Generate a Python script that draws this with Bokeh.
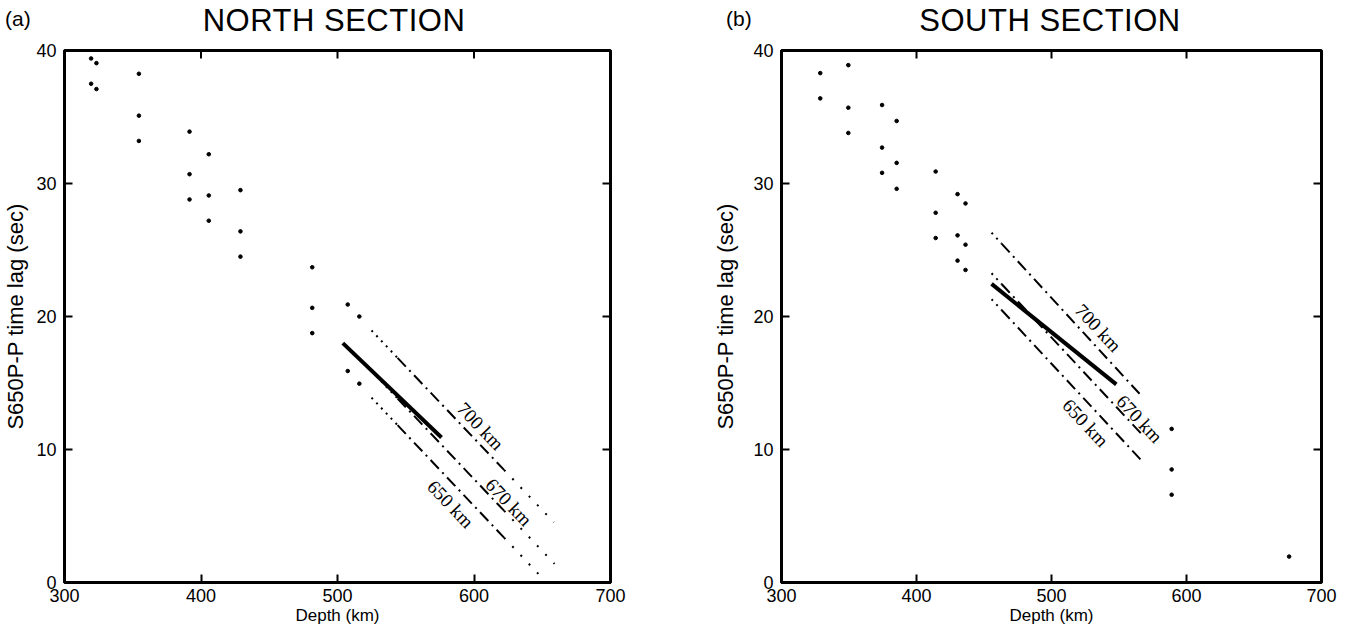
import numpy as np
from bokeh.plotting import figure
from bokeh.layouts import row, column
from bokeh.models import Label, Range1d, FixedTicker, Div
from bokeh.embed import file_html
from bokeh.resources import INLINE

# ---------------- data ----------------
x_ticks = [300, 400, 500, 600, 700]
y_ticks = [0, 10, 20, 30, 40]

panel_letters = ["(a)", "(b)"]
panel_titles = ["NORTH SECTION", "SOUTH SECTION"]

north_depth = [319.5, 323.4, 354.5, 319.5, 323.4, 354.5, 354.5, 391.6, 405.7, 391.6,
               391.6, 405.7, 405.7, 428.9, 428.9, 428.9, 481.5, 481.5, 481.5, 507.5,
               516.0, 507.5, 516.0]
north_lag = [39.4, 39.05, 38.25, 37.5, 37.1, 35.1, 33.2, 33.9, 32.2, 30.7,
             28.8, 29.1, 27.2, 29.5, 26.4, 24.5, 23.7, 20.65, 18.75, 20.9,
             20.0, 15.9, 14.95]

south_depth = [328.7, 328.7, 349.5, 349.5, 349.5, 374.5, 374.5, 374.5, 385.3, 385.3,
               385.3, 414.2, 414.2, 414.2, 430.4, 430.4, 430.4, 436.3, 436.3, 436.3,
               589.0, 589.0, 589.0, 676.0]
south_lag = [38.3, 36.4, 38.9, 35.7, 33.8, 35.9, 32.7, 30.8, 34.7, 31.55,
             29.6, 30.9, 27.8, 25.9, 29.2, 26.1, 24.2, 28.5, 25.4, 23.5,
             11.55, 8.5, 6.6, 1.95]

model_names = ["700 km", "670 km", "650 km"]

# model lines: start/end depth and lag
north_model_depth0 = [524.9, 524.9, 524.9]
north_model_lag0 = [18.95, 15.9, 13.9]
north_model_depth1 = [658.5, 659.0, 649.0]
north_model_lag1 = [4.53, 1.4, 0.45]

south_model_depth0 = [455.6, 455.6, 455.6]
south_model_lag0 = [26.3, 23.25, 21.3]
south_model_depth1 = [566.4, 566.4, 566.4]
south_model_lag1 = [14.06, 11.2, 9.2]

# observed fit line
north_fit_depth = [503.9, 576.2]
north_fit_lag = [18.0, 10.9]
south_fit_depth = [455.6, 548.0]
south_fit_lag = [22.45, 14.9]

# label anchor points
north_label_depth = [604.8, 625.5, 582.8]
north_label_lag = [11.75, 6.04, 5.9]
south_label_depth = [534.6, 565.2, 525.2]
south_label_lag = [19.15, 12.3, 12.0]

SANS = "Liberation Sans"
SERIF = "Liberation Serif"
HEADER_H = 40


def make_panel(depth, lag, m_d0, m_l0, m_d1, m_l1, fit_d, fit_l,
               lab_d, lab_l, dot_break1, dot_break2, angle,
               left, right, ylab_standoff, frame_w):
    p = figure(frame_width=frame_w, frame_height=532,
               x_range=Range1d(300, 700), y_range=Range1d(0, 40),
               output_backend="svg", toolbar_location=None, title=None,
               min_border_left=left, min_border_right=right,
               min_border_top=50 - HEADER_H, min_border_bottom=51)
    p.grid.grid_line_color = None
    p.outline_line_color = "black"
    p.outline_line_width = 3
    p.background_fill_color = "white"
    p.border_fill_color = "white"

    for ax in (p.xaxis[0], p.yaxis[0]):
        ax.axis_line_width = 3
        ax.axis_line_color = "black"
        ax.major_tick_in = 8
        ax.major_tick_out = 0
        ax.major_tick_line_width = 2
        ax.minor_tick_line_color = None
        ax.major_label_text_font = SANS
        ax.major_label_text_font_size = "18px"
        ax.major_label_text_color = "black"
        ax.axis_label_text_font = SANS
        ax.axis_label_text_font_style = "normal"
        ax.axis_label_text_color = "black"
    p.xaxis.axis_label_text_font_size = "17px"
    p.yaxis.axis_label_text_font_size = "22px"
    p.xaxis.ticker = FixedTicker(ticks=x_ticks)
    p.yaxis.ticker = FixedTicker(ticks=y_ticks)
    p.xaxis.axis_label = "Depth (km)"
    p.yaxis.axis_label = "S650P-P time lag (sec)"
    p.xaxis.major_label_standoff = 6
    p.xaxis.axis_label_standoff = 1
    p.yaxis.major_label_standoff = 8
    p.yaxis.axis_label_standoff = ylab_standoff

    # inward ticks on the top and right edges
    p.ray(x=x_ticks, y=[40] * len(x_ticks), length=8, length_units="screen",
          angle=-np.pi / 2, color="black", line_width=2)
    p.ray(x=[700] * len(y_ticks), y=y_ticks, length=8, length_units="screen",
          angle=np.pi, color="black", line_width=2)

    # scattered predictions
    p.scatter(depth, lag, size=3.6, color="black")

    # model lines: dotted ends, dash-dot middle
    for d0, l0, d1, l1 in zip(m_d0, m_l0, m_d1, m_l1):
        def lag_at(d):
            return float(np.interp(d, [d0, d1], [l0, l1]))
        b1 = max(d0, min(dot_break1, d1))
        b2 = max(b1, min(dot_break2, d1))
        p.line([d0, b1], [l0, lag_at(b1)], color="black", line_width=2, line_dash="2 5")
        p.line([b1, b2], [lag_at(b1), lag_at(b2)], color="black", line_width=2,
               line_dash="12 5 2 5")
        if b2 < d1:
            p.line([b2, d1], [lag_at(b2), l1], color="black", line_width=2,
                   line_dash="2 10")

    # observed fit
    p.line(fit_d, fit_l, color="black", line_width=4)

    for name, d, l in zip(model_names, lab_d, lab_l):
        p.add_layout(Label(x=d, y=l, text=name, angle=angle, text_align="center",
                           text_baseline="middle", text_font=SERIF,
                           text_font_size="19px", text_color="black"))
    return p


p1 = make_panel(north_depth, north_lag,
                north_model_depth0, north_model_lag0, north_model_depth1, north_model_lag1,
                north_fit_depth, north_fit_lag, north_label_depth, north_label_lag,
                544.0, 622.0, -0.81, left=64, right=60, ylab_standoff=5, frame_w=546)
p2 = make_panel(south_depth, south_lag,
                south_model_depth0, south_model_lag0, south_model_depth1, south_model_lag1,
                south_fit_depth, south_fit_lag, south_label_depth, south_label_lag,
                463.0, 700.0, -0.82, left=111, right=29, ylab_standoff=12, frame_w=540)

# header with panel letters and section titles
letter_left = [5, 726]
title_center = [334, 1050]
spans = []
for let, tit, lx, tc in zip(panel_letters, panel_titles, letter_left, title_center):
    spans.append(
        f'<span style="position:absolute;left:{lx}px;top:8px;font-size:21px;'
        f'line-height:1;white-space:nowrap">{let}</span>')
    spans.append(
        f'<span style="position:absolute;left:{tc}px;top:5px;transform:translateX(-50%);'
        f'font-size:31px;letter-spacing:0.5px;line-height:1;white-space:nowrap">{tit}</span>')
header_html = (f'<div style="position:relative;width:1350px;height:{HEADER_H}px;'
               f"font-family:'{SANS}';color:black;background:white\">" + "".join(spans) + "</div>")
header = Div(text=header_html, width=1350, height=HEADER_H, margin=0)

layout = column(header, row(p1, p2, spacing=0), spacing=0)
open("out.html", "w").write(file_html(layout, INLINE))
